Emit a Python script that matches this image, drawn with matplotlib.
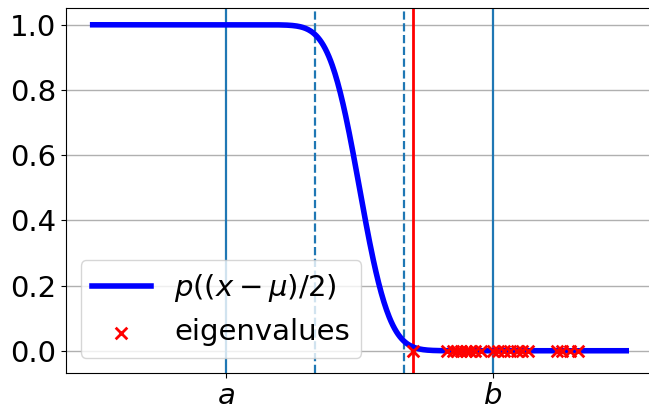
import math
import numpy as np
import matplotlib
matplotlib.use("Agg")
import matplotlib.pyplot as plt

# interval endpoints and interior split points
a, b = 0.0, 1.0
split_points = [1 / 3, 2 / 3]
mu = 0.70

# smooth step parameters (centre and width of the transition)
step_centre = 0.5
step_width = 0.125

eigenvalues = [0.700,
               0.830, 0.850, 0.865, 0.880, 0.900, 0.915, 0.935, 0.955,
               1.000, 1.020, 1.040, 1.065, 1.090, 1.110, 1.130,
               1.240, 1.260, 1.290, 1.320]

y_ticks = [0.0, 0.2, 0.4, 0.6, 0.8, 1.0]


def p(x):
    return 0.5 * np.array([math.erfc((v - step_centre) / step_width) for v in x])


x = np.linspace(a - 0.5 * (b - a), b + 0.5 * (b - a), 600)

fig = plt.figure(figsize=(6.49, 4.08), dpi=100)
ax = fig.add_axes([0.1017, 0.0868, 0.9043, 0.8932])

ax.plot(x, p(x), color="blue", lw=4, label=r"$p((x-\mu)/2)$", zorder=3)
ax.scatter(eigenvalues, np.zeros(len(eigenvalues)), marker="x", color="red",
           s=70, lw=2, label="eigenvalues", zorder=4)

ax.axvline(a, color="C0", lw=1.6)
ax.axvline(b, color="C0", lw=1.6)
for s in split_points:
    ax.axvline(s, color="C0", lw=1.6, ls="--")
ax.axvline(mu, color="red", lw=2)

ax.set_xlim(-0.6, 1.6)
ax.set_ylim(-0.067, 1.051)
ax.set_xticks([a, b])
ax.set_xticklabels([r"$a$", r"$b$"])
ax.set_yticks(y_ticks)
ax.set_yticklabels([f"{t:.1f}" for t in y_ticks])
ax.tick_params(labelsize=21)
ax.grid(axis="y", color="#b0b0b0", lw=1)
ax.set_axisbelow(True)

ax.legend(loc="lower left", fontsize=21)

fig.savefig("out.png", dpi=100)
